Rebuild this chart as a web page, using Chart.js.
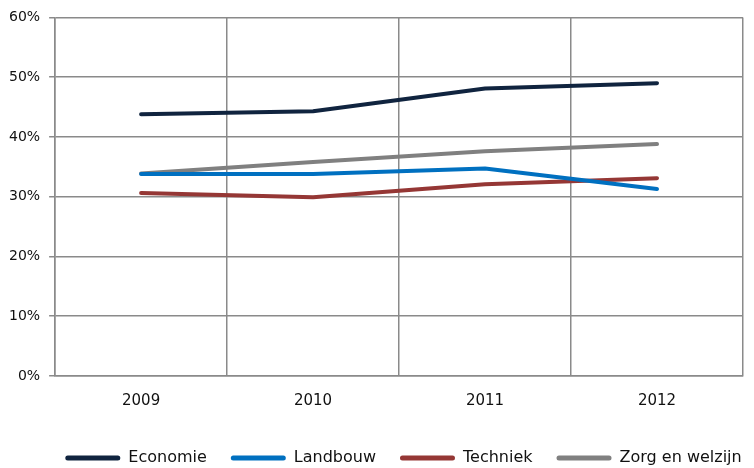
<!DOCTYPE html>
<html>
<head>
<meta charset="utf-8">
<script src="https://cdn.jsdelivr.net/npm/chart.js@4/dist/chart.umd.min.js"></script>
<style>
html,body{margin:0;padding:0;background:#fff;}
#wrap{width:754px;height:468px;position:relative;}
</style>
</head>
<body>
<div id="wrap"><canvas id="c" width="754" height="468"></canvas></div>
<script>
const categories = ['2009', '2010', '2011', '2012'];
const economie = [43.8, 44.3, 48.1, 49.0];
const landbouw = [33.8, 33.8, 34.7, 31.3];
const techniek = [30.6, 29.9, 32.1, 33.1];
const zorg = [33.9, 35.8, 37.6, 38.8];
const yTicks = [0, 10, 20, 30, 40, 50, 60];

const seriesNames = ['Economie', 'Landbouw', 'Techniek', 'Zorg en welzijn'];
const seriesColors = ['#10243f', '#0070c0', '#953735', '#808080'];
const seriesValues = [economie, landbouw, techniek, zorg];

const FONT = 'DejaVu Sans';
const gridColor = '#8a8a8a';

// shift the legend box slightly right (reference legend sits right of center)
const legendShift = {
  id: 'legendShift',
  beforeDraw(chart) {
    const lg = chart.legend;
    if (lg && !lg._shifted) {
      lg.left += 32; lg.right += 32;
      lg._shifted = true;
    }
  }
};

new Chart(document.getElementById('c'), {
  type: 'line',
  data: {
    labels: categories,
    datasets: seriesNames.map((n, i) => ({
      label: n,
      data: seriesValues[i],
      borderColor: seriesColors[i],
      backgroundColor: seriesColors[i],
      borderWidth: 4,
      borderCapStyle: 'round',
      borderJoinStyle: 'round',
      pointRadius: 0,
      tension: 0,
      fill: false
    }))
  },
  plugins: [legendShift],
  options: {
    responsive: false,
    animation: false,
    layout: { padding: { left: 0, right: 11, top: 8, bottom: -8 } },
    plugins: {
      tooltip: { enabled: false },
      legend: {
        position: 'bottom',
        labels: {
          font: { family: FONT, size: 16 },
          color: '#111',
          boxWidth: 55,
          boxHeight: 5,
          padding: 24,
          useBorderRadius: true,
          borderRadius: 2.5,
          generateLabels(chart) {
            return chart.data.datasets.map((d, i) => ({
              text: d.label,
              fillStyle: d.borderColor,
              strokeStyle: d.borderColor,
              lineWidth: 0,
              hidden: false,
              datasetIndex: i,
              fontColor: '#111',
              borderRadius: 2.5
            }));
          }
        }
      }
    },
    scales: {
      x: {
        offset: true,
        grid: { offset: true, color: gridColor, lineWidth: 1.5, drawTicks: false },
        border: { color: gridColor, width: 1.5 },
        ticks: { font: { family: FONT, size: 15 }, color: '#111', padding: 16 }
      },
      y: {
        min: 0, max: 60,
        afterBuildTicks(axis) { axis.ticks = yTicks.map(v => ({ value: v })); },
        grid: { color: gridColor, lineWidth: 1.5, drawTicks: true, tickLength: 6 },
        border: { color: gridColor, width: 1.5 },
        ticks: { font: { family: FONT, size: 14 }, color: '#111', padding: 9, callback: v => v + '%' }
      }
    }
  }
});
</script>
</body>
</html>
